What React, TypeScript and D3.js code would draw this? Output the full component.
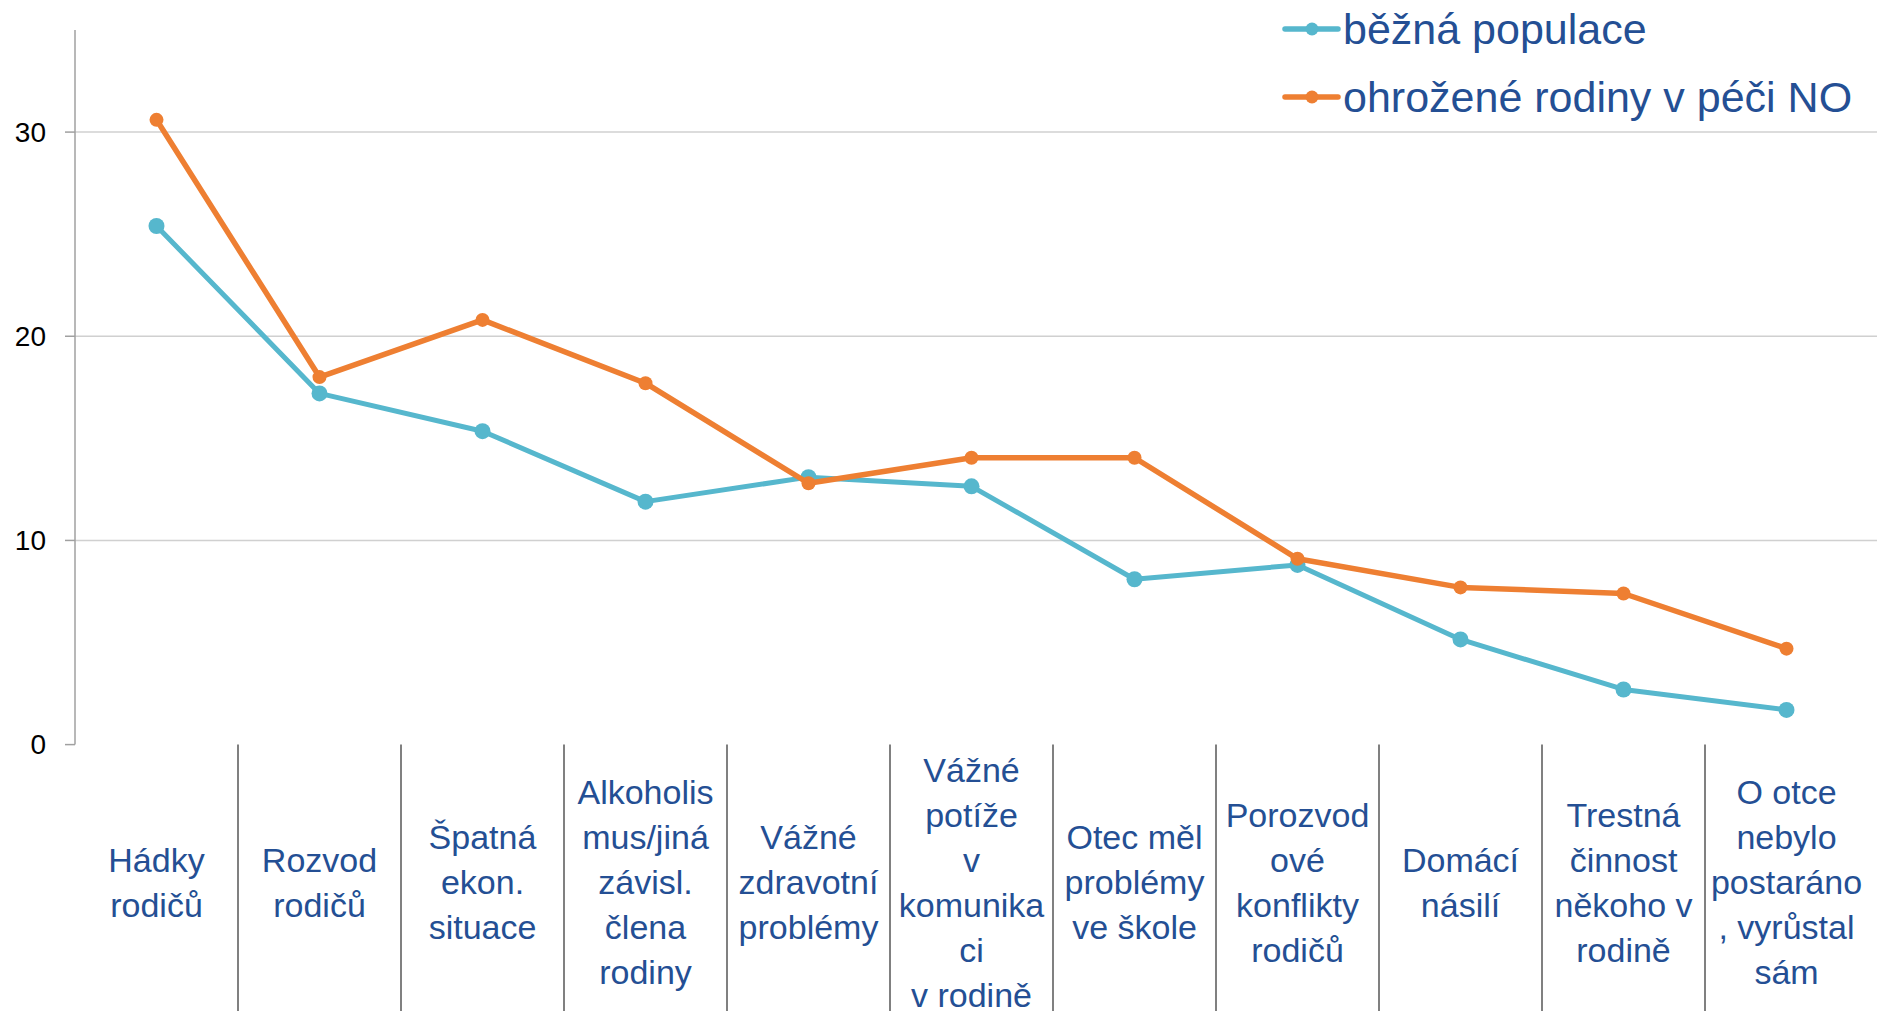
import React from 'react';
import * as d3 from 'd3';

// categories (multi-line labels, as they wrap in the original)
const categories: string[][] = [
  ['Hádky', 'rodičů'],
  ['Rozvod', 'rodičů'],
  ['Špatná', 'ekon.', 'situace'],
  ['Alkoholis', 'mus/jiná', 'závisl.', 'člena', 'rodiny'],
  ['Vážné', 'zdravotní', 'problémy'],
  ['Vážné', 'potíže', 'v', 'komunika', 'ci', 'v rodině'],
  ['Otec měl', 'problémy', 've škole'],
  ['Porozvod', 'ové', 'konflikty', 'rodičů'],
  ['Domácí', 'násilí'],
  ['Trestná', 'činnost', 'někoho v', 'rodině'],
  ['O otce', 'nebylo', 'postaráno', ', vyrůstal', 'sám'],
];

const bezna: number[] = [25.4, 17.2, 15.35, 11.9, 13.1, 12.65, 8.1, 8.8, 5.15, 2.7, 1.7];
const ohrozene: number[] = [30.6, 18.0, 20.8, 17.7, 12.8, 14.05, 14.05, 9.1, 7.7, 7.4, 4.7];

const yTicks: number[] = [0, 10, 20, 30];
const seriesNames: string[] = ['běžná populace', 'ohrožené rodiny v péči NO'];

const WIDTH = 1877;
const HEIGHT = 1011;
const BLUE = '#56B7CD';
const ORANGE = '#EE7F32';
const TEXT_BLUE = '#244F94';
const FONT = '"Liberation Sans", Arial, sans-serif';

const App: React.FC = () => {
  const margin = { top: 30, left: 75, right: 9, bottom: 744.6 };
  const keys = categories.map((_, i) => String(i));

  const x = d3
    .scaleBand()
    .domain(keys)
    .range([margin.left, WIDTH - margin.right])
    .padding(0);

  const y = d3.scaleLinear().domain([0, 35]).range([margin.bottom, margin.top]);

  const cx = (i: number) => (x(String(i)) as number) + x.bandwidth() / 2;

  const line = d3
    .line<number>()
    .x((_, i) => cx(i))
    .y(d => y(d));

  const series = [
    { name: seriesNames[0], values: bezna, color: BLUE, r: 8, w: 5 },
    { name: seriesNames[1], values: ohrozene, color: ORANGE, r: 7, w: 5.5 },
  ];

  return (
    <svg
      width={WIDTH}
      height={HEIGHT}
      style={{ position: 'absolute', left: 0, top: 0, background: '#fff' }}
    >
      {/* gridlines */}
      {yTicks.filter(t => t > 0).map(t => (
        <line key={t} x1={margin.left} x2={WIDTH} y1={y(t)} y2={y(t)} stroke="#D0D0D0" strokeWidth={1.5} />
      ))}
      {/* y axis */}
      <line x1={margin.left} x2={margin.left} y1={margin.top} y2={y(0)} stroke="#A0A0A0" strokeWidth={1.5} />
      {yTicks.map(t => (
        <g key={t}>
          <line x1={margin.left - 10} x2={margin.left} y1={y(t)} y2={y(t)} stroke="#A0A0A0" strokeWidth={1.5} />
          <text
            x={46}
            y={y(t)}
            textAnchor="end"
            dominantBaseline="central"
            fontFamily={FONT}
            fontSize={28}
            fill="#000"
          >
            {t}
          </text>
        </g>
      ))}

      {/* category separators */}
      {keys.slice(1).map(k => (
        <line
          key={k}
          x1={x(k) as number}
          x2={x(k) as number}
          y1={y(0)}
          y2={HEIGHT}
          stroke="#808080"
          strokeWidth={2}
        />
      ))}

      {/* category labels */}
      {categories.map((lines, i) => {
        const lh = 45;
        const top = 882 - ((lines.length - 1) * lh) / 2;
        return (
          <text
            key={i}
            textAnchor="middle"
            fontFamily={FONT}
            fontSize={34}
            fill={TEXT_BLUE}
          >
            {lines.map((l, j) => (
              <tspan key={j} x={cx(i)} y={top + j * lh} dominantBaseline="central">
                {l}
              </tspan>
            ))}
          </text>
        );
      })}

      {/* series */}
      {series.map(s => (
        <g key={s.name}>
          <path d={line(s.values) || ''} fill="none" stroke={s.color} strokeWidth={s.w} strokeLinejoin="round" />
          {s.values.map((v, i) => (
            <circle key={i} cx={cx(i)} cy={y(v)} r={s.r} fill={s.color} />
          ))}
        </g>
      ))}

      {/* legend */}
      {series.map((s, i) => {
        const ly = 29 + i * 68;
        return (
          <g key={s.name}>
            <line x1={1285} x2={1338} y1={ly} y2={ly} stroke={s.color} strokeWidth={5.5} strokeLinecap="round" />
            <circle cx={1312} cy={ly} r={6.5} fill={s.color} />
            <text
              x={1343}
              y={ly}
              dominantBaseline="central"
              fontFamily={FONT}
              fontSize={43}
              fill={TEXT_BLUE}
            >
              {s.name}
            </text>
          </g>
        );
      })}
    </svg>
  );
};

export default App;
